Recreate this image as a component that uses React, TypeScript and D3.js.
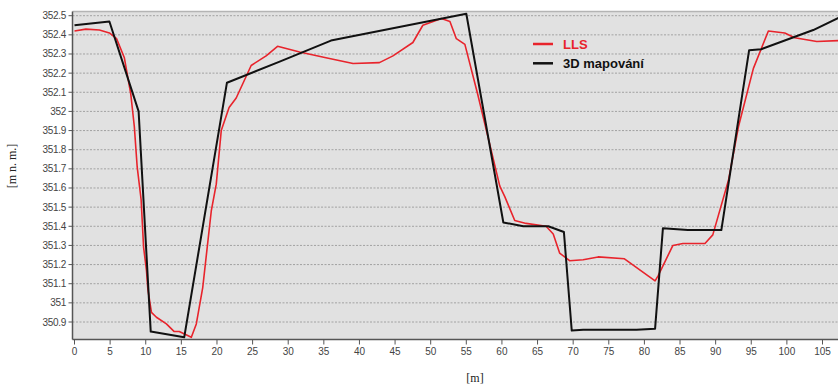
import React from 'react';
import * as d3 from 'd3';

// profile distance [m] / elevation [m n. m.]
const mapX = [0, 4.9, 9.0, 10.7, 15.4, 21.4, 28.8, 36.0, 55.0, 60.2, 63.0, 66.5, 68.7, 69.8, 71.4, 78.9, 81.5, 82.6, 86.1, 88.5, 90.8, 94.7, 96.4, 103.7, 107.3];
const mapY = [352.45, 352.47, 352.0, 350.85, 350.82, 352.15, 352.26, 352.37, 352.51, 351.42, 351.40, 351.40, 351.37, 350.855, 350.86, 350.86, 350.865, 351.39, 351.38, 351.38, 351.38, 352.32, 352.325, 352.425, 352.49];

const llsX = [0, 1.6, 3.5, 4.9, 5.9, 7.0, 7.9, 8.4, 8.8, 9.35, 9.7, 10.1, 10.3, 10.8, 11.5, 12.9, 14.0, 14.7, 16.4, 17.1, 18.0, 19.2, 19.9, 20.6, 21.7, 22.7, 24.8, 26.9, 28.5, 31.6, 35.3, 39.1, 42.8, 44.7, 47.5, 48.9, 51.5, 52.7, 53.6, 54.8, 56.6, 59.7, 60.4, 61.8, 63.4, 66.2, 67.2, 68.1, 69.5, 71.4, 73.5, 77.2, 81.5, 81.9, 84.0, 85.4, 88.5, 89.6, 91.8, 93.2, 95.3, 97.4, 99.7, 101.1, 104.2, 107.3];
const llsY = [352.42, 352.43, 352.425, 352.41, 352.38, 352.28, 352.09, 351.92, 351.71, 351.54, 351.29, 351.17, 351.07, 350.95, 350.925, 350.89, 350.85, 350.85, 350.82, 350.89, 351.08, 351.48, 351.62, 351.90, 352.02, 352.07, 352.24, 352.29, 352.34, 352.31, 352.28, 352.25, 352.255, 352.29, 352.36, 352.45, 352.485, 352.47, 352.38, 352.35, 352.09, 351.61, 351.555, 351.43, 351.415, 351.40, 351.36, 351.26, 351.22, 351.225, 351.24, 351.23, 351.115, 351.14, 351.30, 351.31, 351.31, 351.355, 351.64, 351.92, 352.225, 352.42, 352.41, 352.385, 352.365, 352.37];

const xTicks = d3.range(0, 110, 5);
const yTicks = [350.9, 351, 351.1, 351.2, 351.3, 351.4, 351.5, 351.6, 351.7, 351.8, 351.9, 352, 352.1, 352.2, 352.3, 352.4, 352.5];

const legendItems = [
  { name: 'LLS', color: '#e8242c' },
  { name: '3D mapování', color: '#111111' },
];

const App = () => {
  const width = 838, height = 385;
  const left = 72.5, top = 11.5, bottom = 339.5, right = 838;

  const x = d3.scaleLinear().domain([0, 105]).range([74.5, 822.5]);
  const y = d3.scaleLinear().domain([350.9, 352.5]).range([322, 15.7]);

  const line = d3.line<[number, number]>()
    .x(d => x(d[0]))
    .y(d => y(d[1]));

  const mapPts = mapX.map((v, i) => [v, mapY[i]] as [number, number]);
  const llsPts = llsX.map((v, i) => [v, llsY[i]] as [number, number]);

  return (
    <svg width={width} height={height} style={{ position: 'absolute', left: 0, top: 0 }}>
      <rect x={0} y={0} width={width} height={height} fill="#fff" />
      <defs>
        <clipPath id="plot">
          <rect x={left} y={top} width={right - left} height={bottom - top} />
        </clipPath>
      </defs>
      <rect x={left} y={top} width={right - left} height={bottom - top} fill="#e1e1e1" />
      <line x1={left} x2={right} y1={top} y2={top} stroke="#b4b4b4" strokeWidth={1.5} />

      {/* grid */}
      {yTicks.map(t => (
        <line key={'g' + t} x1={left} x2={right} y1={y(t)} y2={y(t)}
          stroke="#a2a2a2" strokeWidth={1} strokeDasharray="2,1.5" />
      ))}

      <g clipPath="url(#plot)" fill="none" strokeLinejoin="round">
        <path d={line(llsPts) || ''} stroke="#e8242c" strokeWidth={1.6} />
        <path d={line(mapPts) || ''} stroke="#111" strokeWidth={2} />
      </g>

      {/* axes */}
      <line x1={left} x2={left} y1={top} y2={bottom} stroke="#555" strokeWidth={1.5} />
      <line x1={left} x2={right} y1={bottom} y2={bottom} stroke="#555" strokeWidth={1.5} />
      {yTicks.map(t => (
        <g key={'y' + t}>
          <line x1={left - 4} x2={left} y1={y(t)} y2={y(t)} stroke="#555" />
          <text x={66} y={y(t)} dy="0.35em" textAnchor="end" fontSize={10}
            fontFamily="'Liberation Sans', Arial, sans-serif" fill="#444" letterSpacing={-0.3}>
            {d3.format('')(t)}
          </text>
        </g>
      ))}
      {xTicks.map(t => (
        <g key={'x' + t}>
          <line x1={x(t)} x2={x(t)} y1={bottom} y2={bottom + 5} stroke="#555" />
          <text x={x(t)} y={bottom + 12} dy="0.35em" textAnchor="middle" fontSize={10}
            fontFamily="'Liberation Sans', Arial, sans-serif" fill="#444">
            {t}
          </text>
        </g>
      ))}

      {/* legend */}
      {legendItems.map((d, i) => (
        <g key={d.name} transform={`translate(533,${44 + i * 19.3})`}>
          <line x1={0} x2={20} y1={0} y2={0} stroke={d.color} strokeWidth={2.5} />
          <text x={30} y={0} dy="0.36em" fontSize={13} fontWeight="bold"
            fontFamily="'Liberation Sans', Arial, sans-serif" fill={d.color}>
            {d.name}
          </text>
        </g>
      ))}

      {/* axis titles */}
      <text transform="translate(16,166) rotate(-90)" textAnchor="middle" fontSize={12}
        fontFamily="'Liberation Serif', 'Times New Roman', serif" fill="#222">[m n. m.]</text>
      <text x={475} y={382} textAnchor="middle" fontSize={12}
        fontFamily="'Liberation Serif', 'Times New Roman', serif" fill="#222">[m]</text>
    </svg>
  );
};

export default App;
